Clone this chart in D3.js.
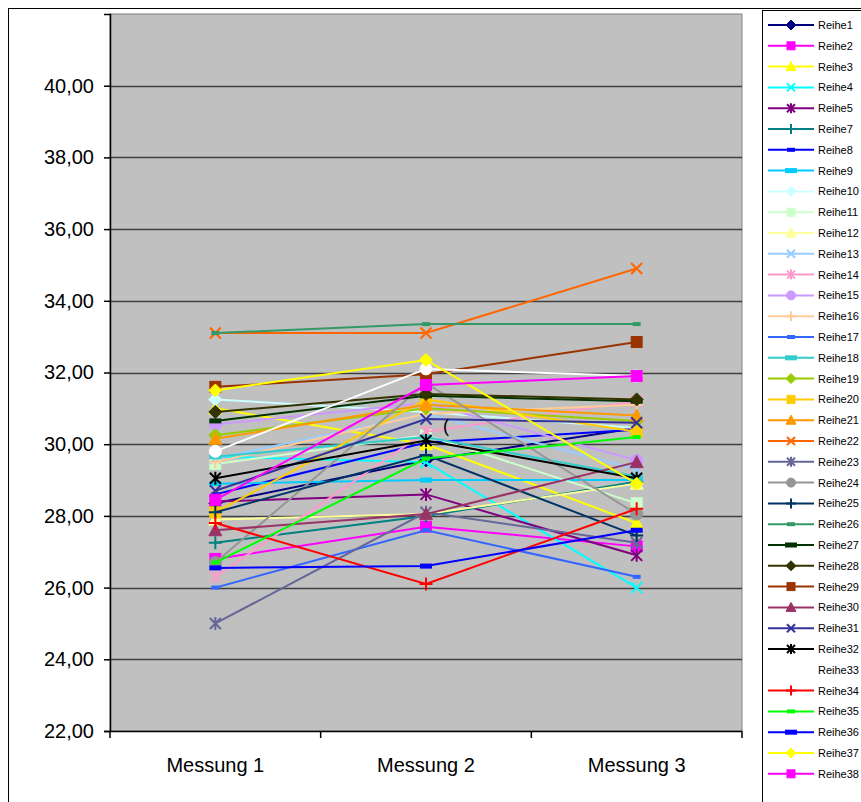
<!DOCTYPE html>
<html>
<head>
<meta charset="utf-8">
<script src="https://cdn.jsdelivr.net/npm/d3@7"></script>
<style>
  html, body { margin: 0; padding: 0; background: #ffffff; }
  svg { display: block; font-family: "Liberation Sans", Arial, sans-serif; }
</style>
</head>
<body>
<svg id="chart" width="861" height="802"></svg>
<script>
// Measurement points on the x axis
const categories = ["Messung 1", "Messung 2", "Messung 3"];

// Series names (there is no Reihe6)
const seriesNames = [
  "Reihe1", "Reihe2", "Reihe3", "Reihe4", "Reihe5", "Reihe7", "Reihe8", "Reihe9", "Reihe10",
  "Reihe11", "Reihe12", "Reihe13", "Reihe14", "Reihe15", "Reihe16", "Reihe17", "Reihe18",
  "Reihe19", "Reihe20", "Reihe21", "Reihe22", "Reihe23", "Reihe24", "Reihe25", "Reihe26",
  "Reihe27", "Reihe28", "Reihe29", "Reihe30", "Reihe31", "Reihe32", "Reihe33", "Reihe34",
  "Reihe35", "Reihe36", "Reihe37", "Reihe38"
];

// Values per measurement, in the order of seriesNames
const messung1 = [
  28.35, 26.80, 31.00, 29.65, 28.40, 27.25, 28.60, 28.90, 31.25,
  29.45, 27.90, 29.60, 26.30, 30.55, 29.50, 26.00, 29.65,
  30.25, 28.10, 30.15, 33.10, 25.00, 26.70, 28.10, 33.10,
  30.65, 30.90, 31.60, 27.60, 28.70, 29.05, 29.80, 27.80,
  26.70, 26.55, 31.50, 28.45
];
const messung2 = [
  29.55, 27.70, 30.00, 29.50, 28.60, 28.00, 30.05, 29.00, 30.90,
  30.25, 28.05, 30.85, 30.35, 31.15, 30.85, 27.60, 30.20,
  31.00, 31.25, 31.10, 33.10, 28.10, 31.70, 29.70, 33.35,
  31.35, 31.40, 31.95, 28.05, 30.70, 30.10, 32.10, 26.10,
  29.60, 26.60, 32.35, 31.65
];
const messung3 = [
  30.45, 27.15, 27.80, 26.00, 26.90, 28.95, 30.40, 29.00, 30.45,
  28.35, 28.90, 29.30, 31.20, 29.55, 31.10, 26.30, 29.10,
  30.65, 30.35, 30.80, 34.90, 27.25, 28.05, 27.45, 33.35,
  31.20, 31.25, 32.85, 29.50, 30.60, 29.05, 31.90, 28.20,
  30.20, 27.60, 28.90, 31.90
];

// Y axis tick values
const yTicks = [22, 24, 26, 28, 30, 32, 34, 36, 38, 40];

// Line / marker colours and marker shapes per series
const seriesColors = [
  "#000080", "#FF00FF", "#FFFF00", "#00FFFF", "#800080", "#008080", "#0000FF", "#00CCFF", "#CCFFFF",
  "#CCFFCC", "#FFFF99", "#99CCFF", "#FF99CC", "#CC99FF", "#FFCC99", "#3366FF", "#33CCCC",
  "#99CC00", "#FFCC00", "#FF9900", "#FF6600", "#666699", "#969696", "#003366", "#339966",
  "#003300", "#333300", "#993300", "#993366", "#333399", "#000000", "#FFFFFF", "#FF0000",
  "#00FF00", "#0000FF", "#FFFF00", "#FF00FF"
];
const seriesMarkers = [
  "diamond", "square", "triangle", "x", "star", "plus", "dash", "longdash", "diamond",
  "square", "triangle", "x", "star", "circle", "plus", "dash", "longdash",
  "diamond", "square", "triangle", "x", "star", "circle", "plus", "dash",
  "longdash", "diamond", "square", "triangle", "x", "star", "circle", "plus",
  "dash", "longdash", "diamond", "square"
];

const svg = d3.select("#chart");

// Plot area geometry
const plot = { left: 110, right: 742, top: 14, bottom: 731 };

const x = d3.scaleBand().domain(categories).range([plot.left, plot.right]).padding(0);
const y = d3.scaleLinear().domain([22, 42]).range([plot.bottom, plot.top]);
const fmt = v => d3.format(".2f")(v).replace(".", ",");

// Chart area frame
svg.append("rect")
  .attr("x", 8.5).attr("y", 8.5).attr("width", 1000).attr("height", 1000)
  .attr("fill", "#ffffff").attr("stroke", "#000000").attr("stroke-width", 1);

// Grey plot background
svg.append("rect")
  .attr("x", plot.left).attr("y", plot.top)
  .attr("width", plot.right - plot.left).attr("height", plot.bottom - plot.top)
  .attr("fill", "#C0C0C0").attr("stroke", "#808080").attr("stroke-width", 1);

// Horizontal gridlines
svg.append("g")
  .selectAll("line")
  .data(yTicks.slice(1))
  .join("line")
  .attr("x1", plot.left).attr("x2", plot.right)
  .attr("y1", d => Math.round(y(d)) + 0.5).attr("y2", d => Math.round(y(d)) + 0.5)
  .attr("stroke", "#404040").attr("stroke-width", 1.5);

// Y axis
const yAxis = d3.axisLeft(y).tickValues(yTicks).tickFormat(fmt).tickSizeOuter(0).tickSize(6).tickPadding(10);
const gy = svg.append("g").attr("transform", `translate(${plot.left},0)`).call(yAxis);
gy.select(".domain").attr("stroke", "#000000").attr("stroke-width", 1.5);
gy.selectAll(".tick line").attr("stroke", "#000000").attr("stroke-width", 1.5);
gy.selectAll(".tick text").attr("font-size", 20).attr("fill", "#000000")
  .attr("font-family", "'Liberation Sans', Arial, sans-serif");

// X axis with ticks between categories
const gx = svg.append("g").attr("transform", `translate(0,${plot.bottom})`);
gx.append("line")
  .attr("x1", plot.left).attr("x2", plot.right).attr("y1", 0.5).attr("y2", 0.5)
  .attr("stroke", "#000000").attr("stroke-width", 1.5);
const boundaries = categories.map(c => x(c)).concat([x(categories[categories.length - 1]) + x.bandwidth()]);
gx.selectAll("line.tk").data(boundaries).join("line").attr("class", "tk")
  .attr("x1", d => d).attr("x2", d => d).attr("y1", 0).attr("y2", 7)
  .attr("stroke", "#000000").attr("stroke-width", 1.5);
gx.selectAll("text").data(categories).join("text")
  .attr("x", d => x(d) + x.bandwidth() / 2).attr("y", 41)
  .attr("text-anchor", "middle").attr("font-size", 20).attr("fill", "#000000")
  .text(d => d);

// Marker drawing helper
function drawMarker(g, shape, cx, cy, color, s) {
  const h = s / 2;
  switch (shape) {
    case "diamond":
      g.append("path").attr("d", `M${cx},${cy - h - 1}L${cx + h + 1},${cy}L${cx},${cy + h + 1}L${cx - h - 1},${cy}Z`)
        .attr("fill", color).attr("stroke", color).attr("stroke-width", 1);
      break;
    case "square":
      g.append("rect").attr("x", cx - h).attr("y", cy - h).attr("width", s).attr("height", s)
        .attr("fill", color).attr("stroke", color).attr("stroke-width", 1);
      break;
    case "triangle":
      g.append("path").attr("d", `M${cx},${cy - h - 1}L${cx + h + 1},${cy + h}L${cx - h - 1},${cy + h}Z`)
        .attr("fill", color).attr("stroke", color).attr("stroke-width", 1);
      break;
    case "circle":
      g.append("circle").attr("cx", cx).attr("cy", cy).attr("r", h + 0.5)
        .attr("fill", color).attr("stroke", color).attr("stroke-width", 1);
      break;
    case "x":
      g.append("path").attr("d", `M${cx - h},${cy - h}L${cx + h},${cy + h}M${cx - h},${cy + h}L${cx + h},${cy - h}`)
        .attr("stroke", color).attr("stroke-width", 2).attr("fill", "none");
      break;
    case "star":
      g.append("path").attr("d", `M${cx - h},${cy - h}L${cx + h},${cy + h}M${cx - h},${cy + h}L${cx + h},${cy - h}M${cx},${cy - h - 1}L${cx},${cy + h + 1}`)
        .attr("stroke", color).attr("stroke-width", 2).attr("fill", "none");
      break;
    case "plus":
      g.append("path").attr("d", `M${cx - h - 1},${cy}L${cx + h + 1},${cy}M${cx},${cy - h - 1}L${cx},${cy + h + 1}`)
        .attr("stroke", color).attr("stroke-width", 2).attr("fill", "none");
      break;
    case "dash":
      g.append("rect").attr("x", cx - 4).attr("y", cy - 2).attr("width", 8).attr("height", 4)
        .attr("fill", color);
      break;
    case "longdash":
      g.append("rect").attr("x", cx - 6).attr("y", cy - 2.5).attr("width", 12).attr("height", 5)
        .attr("fill", color);
      break;
  }
}

// Series lines and markers
const line = d3.line().x(d => x(d.cat) + x.bandwidth() / 2).y(d => y(d.value));
const seriesData = seriesNames.map((name, i) => ({
  name,
  color: seriesColors[i],
  marker: seriesMarkers[i],
  points: [
    { cat: categories[0], value: messung1[i] },
    { cat: categories[1], value: messung2[i] },
    { cat: categories[2], value: messung3[i] }
  ]
}));

const seriesG = svg.append("g");
seriesData.forEach(s => {
  const g = seriesG.append("g");
  g.append("path").datum(s.points).attr("d", line)
    .attr("fill", "none").attr("stroke", s.color).attr("stroke-width", 2);
  s.points.forEach(p => {
    drawMarker(g, s.marker, x(p.cat) + x.bandwidth() / 2, y(p.value), s.color, 11);
  });
});

// Stray character inside the plot area
svg.append("text").attr("x", 443).attr("y", 432).attr("font-size", 18).attr("fill", "#000000").text("(");

// Legend
const legend = { left: 762, top: 10, first: 25, step: 20.8 };
svg.append("rect")
  .attr("x", legend.left + 0.5).attr("y", legend.top + 0.5).attr("width", 200).attr("height", 900)
  .attr("fill", "#ffffff").attr("stroke", "#000000").attr("stroke-width", 1);
const lg = svg.append("g");
seriesData.forEach((s, i) => {
  const cy = legend.first + i * legend.step;
  const g = lg.append("g");
  g.append("line").attr("x1", 768).attr("x2", 814).attr("y1", cy).attr("y2", cy)
    .attr("stroke", s.color).attr("stroke-width", 2);
  drawMarker(g, s.marker, 791, cy, s.color, 8);
  g.append("text").attr("x", 818).attr("y", cy + 4).attr("font-size", 11).attr("fill", "#000000").text(s.name);
});
</script>
</body>
</html>
